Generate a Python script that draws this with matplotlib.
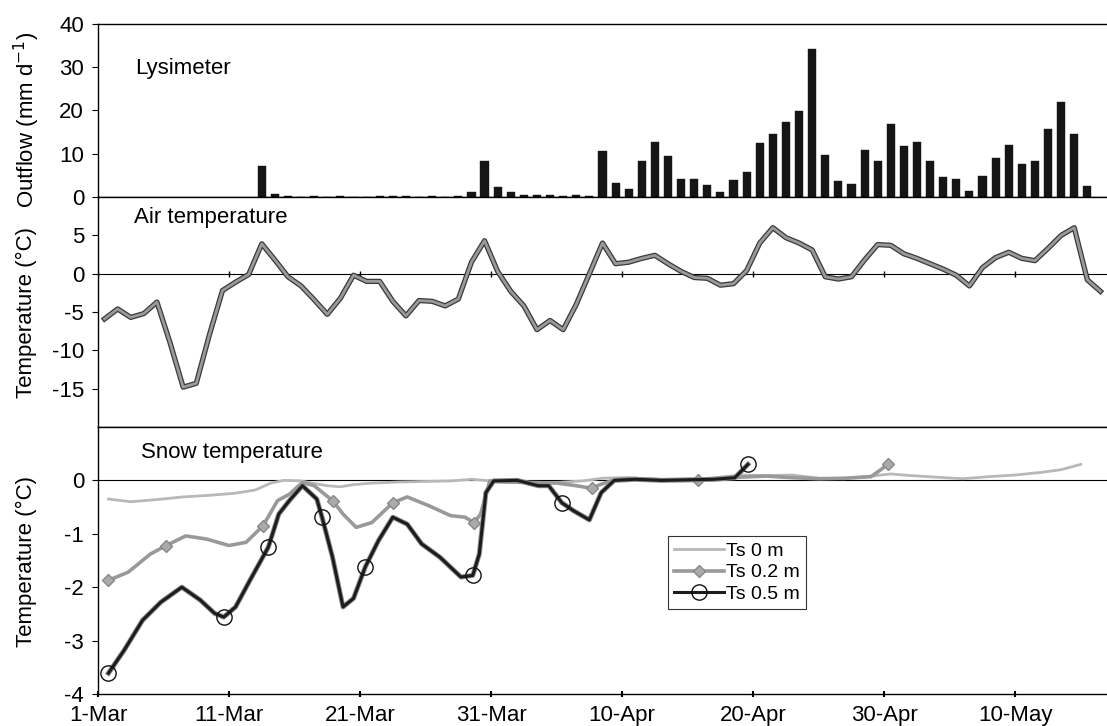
import numpy as np
import matplotlib
matplotlib.use('Agg')
import matplotlib.pyplot as plt
import matplotlib.patheffects as pe

plt.rcParams['font.family'] = ['Liberation Sans', 'DejaVu Sans']
plt.rcParams['axes.linewidth'] = 1.0
plt.rcParams['axes.unicode_minus'] = False

# ---------------------------------------------------------
# data (x = days since 1-Mar)
# ---------------------------------------------------------
tick_days = [0, 10, 20, 30, 40, 50, 60, 70]
tick_labels = ['1-Mar', '11-Mar', '21-Mar', '31-Mar', '10-Apr', '20-Apr', '30-Apr', '10-May']

# daily lysimeter outflow (mm/d), first bar on day 12
outflow_start = 12
outflow = [7.2, 0.8, 0.3, 0.0, 0.2, 0.0, 0.2, 0.0, 0.0, 0.2, 0.3, 0.3, 0.0, 0.2, 0.0, 0.2,
           1.2, 8.3, 2.2, 1.1, 0.4, 0.4, 0.4, 0.3, 0.4, 0.3,
           10.6, 3.2, 1.8, 8.2, 12.6, 9.4, 4.1, 4.1, 2.8, 1.1, 3.9, 5.7,
           12.5, 14.6, 17.3, 19.8, 34.3, 9.6, 3.8, 3.0, 10.8, 8.4, 16.8, 11.7,
           12.7, 8.3, 4.6, 4.2, 1.3, 4.8, 9.0, 12.0, 7.7, 8.2, 15.8, 21.9, 14.5, 2.6]

# daily mean air temperature (°C), from 1-Mar
air_temp = [-5.9, -4.6, -5.7, -5.2, -3.7, -9.0, -14.8, -14.3, -8.0, -2.2,
            -1.1, -0.1, 3.9, 1.8, -0.4, -1.6, -3.4, -5.3, -3.2, -0.2,
            -1.0, -1.0, -3.6, -5.5, -3.5, -3.6, -4.2, -3.3, 1.5, 4.3,
            0.3, -2.3, -4.2, -7.3, -6.1, -7.3, -4.0, 0.0, 4.0, 1.3,
            1.5, 2.0, 2.4, 1.3, 0.3, -0.5, -0.6, -1.5, -1.3, 0.4,
            4.0, 6.0, 4.7, 4.0, 3.1, -0.4, -0.7, -0.4, 1.8, 3.8,
            3.7, 2.6, 2.0, 1.3, 0.6, -0.2, -1.6, 0.8, 2.1, 2.8,
            2.0, 1.7, 3.3, 5.0, 6.0, -0.8, -2.3]

# snow temperatures at three depths
ts0_day = [0.8, 2.5, 4.5, 6.5, 8.5, 10.5, 12.0, 13.2, 14.2, 15.5, 16.5, 17.5, 18.5, 19.5,
           21.0, 23.0, 25.0, 27.0, 28.5, 30.0, 31.5, 33.0, 35.0, 37.0, 38.5, 40.0, 42.0,
           44.0, 46.0, 47.5, 49.0, 51.0, 53.0, 55.0, 57.0, 59.0, 60.5, 62.0, 64.0, 66.0,
           68.0, 70.0, 72.0, 73.5, 75.0]
ts0 = [-0.35, -0.40, -0.36, -0.31, -0.28, -0.24, -0.18, -0.05, 0.0, -0.01, -0.06, -0.10,
       -0.12, -0.08, -0.05, -0.03, -0.02, -0.01, 0.02, -0.01, -0.03, -0.05, -0.04, -0.01,
       0.04, 0.05, 0.03, 0.0, 0.02, 0.06, 0.10, 0.09, 0.10, 0.04, 0.03, 0.08, 0.12, 0.09,
       0.06, 0.03, 0.07, 0.10, 0.15, 0.20, 0.30]

ts02_day = [0.8, 2.3, 4.0, 5.2, 6.7, 8.3, 10.0, 11.3, 12.6, 13.7, 14.6, 15.6, 16.5, 17.9,
            18.7, 19.7, 20.9, 22.5, 23.6, 25.3, 26.9, 28.0, 28.7, 29.2, 29.9, 31.0, 33.0,
            35.0, 36.5, 37.7, 38.3, 39.3, 40.5, 42.0, 44.0, 45.8, 47.5, 49.0, 51.0, 53.0,
            55.0, 57.0, 59.0, 60.3]
ts02 = [-1.87, -1.72, -1.38, -1.22, -1.04, -1.10, -1.22, -1.16, -0.85, -0.38, -0.26, -0.04,
        -0.10, -0.38, -0.63, -0.88, -0.79, -0.42, -0.31, -0.48, -0.66, -0.69, -0.79, -0.63,
        -0.01, -0.03, -0.04, -0.05, -0.10, -0.15, -0.08, 0.0, 0.04, 0.02, 0.0, 0.0, 0.03,
        0.06, 0.08, 0.05, 0.03, 0.04, 0.07, 0.30]
ts02_marks = [0, 3, 8, 13, 17, 22, 29, 35, 43]

ts05_day = [0.8, 2.0, 3.4, 4.8, 6.4, 7.8, 8.9, 9.6, 10.5, 11.6, 13.0, 13.8, 14.6, 15.6,
            16.7, 17.1, 17.9, 18.7, 19.5, 20.4, 21.4, 22.5, 23.6, 24.7, 26.1, 27.7, 28.6,
            29.1, 29.6, 30.2, 32.0, 33.6, 34.4, 35.4, 36.3, 37.5, 38.4, 39.4, 41.0, 43.0,
            45.0, 47.0, 48.6, 49.6]
ts05 = [-3.61, -3.18, -2.62, -2.28, -2.00, -2.24, -2.49, -2.56, -2.37, -1.87, -1.25, -0.63,
        -0.38, -0.10, -0.35, -0.69, -1.44, -2.37, -2.21, -1.62, -1.13, -0.69, -0.82, -1.19,
        -1.44, -1.81, -1.78, -1.38, -0.23, -0.01, 0.0, -0.10, -0.10, -0.42, -0.57, -0.74,
        -0.23, 0.0, 0.02, 0.0, 0.01, 0.02, 0.05, 0.30]
ts05_marks = [0, 7, 10, 15, 19, 26, 33, 43]

XMAX = 77.0

# ---------------------------------------------------------
# figure with three stacked panels
# ---------------------------------------------------------
fig = plt.figure(figsize=(11.07, 7.26), dpi=100)
left, width = 0.0885, 0.9115
ax1 = fig.add_axes([left, 0.7287, width, 0.2383])
ax2 = fig.add_axes([left, 0.4118, width, 0.3168], sharex=ax1)
ax3 = fig.add_axes([left, 0.0441, width, 0.3678], sharex=ax1)

for ax in (ax1, ax2, ax3):
    ax.spines['right'].set_visible(False)
    ax.tick_params(axis='y', direction='out', length=4, width=0.8, labelsize=16, pad=6)
    ax.set_xlim(0, XMAX)
for ax in (ax1, ax2):
    ax.tick_params(axis='x', bottom=False, labelbottom=False)

# 1. lysimeter outflow
bar_x = np.arange(len(outflow)) + outflow_start + 0.5
ax1.bar(bar_x, outflow, width=0.62, color='#151515', edgecolor='#151515', linewidth=0.3)
ax1.set_ylim(0, 40)
ax1.set_yticks([0, 10, 20, 30, 40])
ax1.text(0.037, 0.71, 'Lysimeter', transform=ax1.transAxes, fontsize=16)

# 2. air temperature
air_x = np.arange(len(air_temp)) + 0.5
ax2.axhline(0, color='black', lw=0.8)
ax2.plot(tick_days, [0] * len(tick_days), '|', color='black', ms=5, mew=1)
ax2.plot(air_x, air_temp, color='#9a9a9a', lw=2.0, solid_joinstyle='round',
         path_effects=[pe.Stroke(linewidth=3.8, foreground='#3a3a3a'), pe.Normal()])
ax2.set_ylim(-20, 10)
ax2.set_yticks([-15, -10, -5, 0, 5])
ax2.text(0.036, 0.885, 'Air temperature', transform=ax2.transAxes, fontsize=16)

# 3. snow temperature
ax3.axhline(0, color='black', lw=0.8)
ax3.plot(ts0_day, ts0, color='#b8b8b8', lw=2.0, label='Ts 0 m')
ax3.plot(ts02_day, ts02, color='#999999', lw=2.6, marker='D', ms=6,
         markevery=ts02_marks, mfc='#aaaaaa', mec='#888888', label='Ts 0.2 m')
ax3.plot(ts05_day, ts05, color='#8c8c8c', lw=3.6, zorder=2)
ax3.plot(ts05_day, ts05, color='#1c1c1c', lw=2.2, marker='o', ms=11,
         markevery=ts05_marks, mfc='none', mec='#111111', mew=1.0,
         label='Ts 0.5 m', zorder=3)
ax3.set_ylim(-4, 1)
ax3.set_yticks([-4, -3, -2, -1, 0])
ax3.text(0.043, 0.885, 'Snow temperature', transform=ax3.transAxes, fontsize=16)

ax3.set_xticks(tick_days)
ax3.set_xticklabels(tick_labels, fontsize=16)
ax3.tick_params(axis='x', direction='inout', length=4, width=1.5, pad=6)

leg = ax3.legend(loc='upper left', bbox_to_anchor=(0.565, 0.59), fontsize=14,
                 frameon=True, fancybox=False, handlelength=2.6, handletextpad=0.1,
                 borderpad=0.3, labelspacing=0.2, borderaxespad=0)
leg.get_frame().set_edgecolor('black')
leg.get_frame().set_linewidth(0.8)

# y-axis titles
fig.text(0.024, 0.835, 'Outflow (mm d$^{-1}$)', rotation=90, ha='center', va='center', fontsize=16)
fig.text(0.024, 0.57, 'Temperature (°C)', rotation=90, ha='center', va='center', fontsize=16)
fig.text(0.024, 0.227, 'Temperature (°C)', rotation=90, ha='center', va='center', fontsize=16)

fig.savefig('out.png', dpi=100)
